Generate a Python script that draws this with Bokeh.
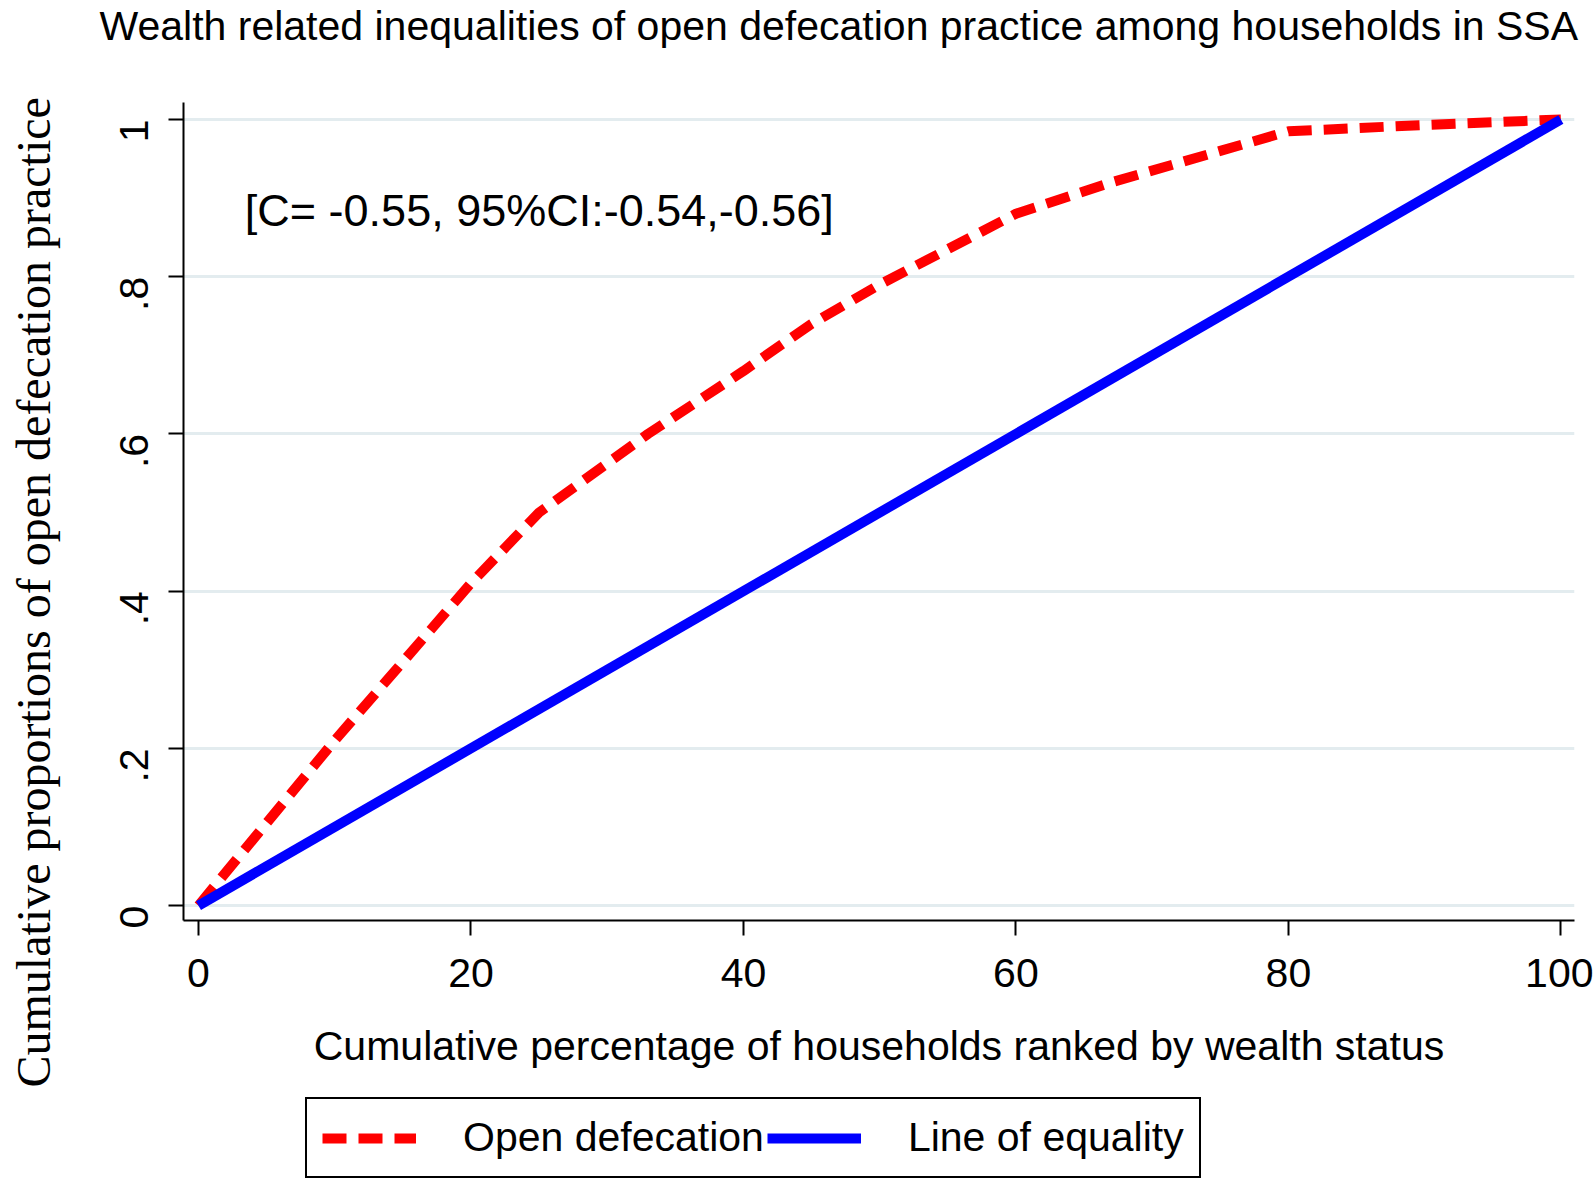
import math
from bokeh.plotting import figure
from bokeh.layouts import column
from bokeh.models import Label, Legend, LegendItem, Range1d, FixedTicker, Title
from bokeh.embed import file_html
from bokeh.resources import INLINE

# Data
pct_households = [0, 10, 20, 25, 33, 40, 45, 50, 60, 67, 75, 80, 90, 100]
cum_open_defecation = [0, 0.21, 0.41, 0.50, 0.60, 0.68, 0.74, 0.79, 0.88, 0.92, 0.96, 0.985, 0.993, 1.0]
equality_x = [0, 100]
equality_y = [0, 1]
x_ticks = [0, 20, 40, 60, 80, 100]
y_ticks = [0, 0.2, 0.4, 0.6, 0.8, 1.0]
y_tick_labels = ["0", ".2", ".4", ".6", ".8", "1"]

SANS = "Liberation Sans"
SERIF = "Liberation Serif"
RED = "#ff0000"
BLUE = "#0000ff"

p = figure(width=1593, height=1096, output_backend="svg", toolbar_location=None,
           x_range=Range1d(-1.1, 101.0), y_range=Range1d(-0.019, 1.0216))
p.min_border_left = 183
p.min_border_right = 19
p.min_border_top = 102
p.min_border_bottom = 176
p.outline_line_color = None
p.background_fill_color = "white"
p.border_fill_color = "white"

# axes
p.xaxis.ticker = FixedTicker(ticks=x_ticks)
p.yaxis.ticker = FixedTicker(ticks=y_ticks)
p.yaxis.major_label_overrides = {t: l for t, l in zip(y_ticks, y_tick_labels)}
for ax in (p.xaxis, p.yaxis):
    ax.axis_line_color = "black"
    ax.axis_line_width = 2
    ax.major_tick_line_color = "black"
    ax.major_tick_line_width = 2
    ax.major_tick_out = 15
    ax.major_tick_in = 0
    ax.minor_tick_line_color = None
    ax.major_label_text_font = SANS
    ax.major_label_text_font_size = "41px"
    ax.major_label_text_color = "black"
p.yaxis.major_label_orientation = math.pi / 2
p.yaxis.major_label_standoff = 34
p.xaxis.major_label_standoff = 23

p.xaxis.axis_label = "Cumulative percentage of households ranked by wealth status"
p.xaxis.axis_label_text_font = SANS
p.xaxis.axis_label_text_font_size = "41px"
p.xaxis.axis_label_text_font_style = "normal"
p.xaxis.axis_label_text_color = "black"
p.xaxis.axis_label_standoff = 33

p.xgrid.grid_line_color = None
p.ygrid.grid_line_color = "#e3ecef"
p.ygrid.grid_line_width = 3

p.line(pct_households, cum_open_defecation, line_color=RED, line_width=10, line_dash="24 12")
p.line(equality_x, equality_y, line_color=BLUE, line_width=10)

p.add_layout(Label(x=3.4, y=0.884, text="[C= -0.55, 95%CI:-0.54,-0.56]",
                   text_font=SANS, text_font_size="45px", text_baseline="middle",
                   text_align="left", text_color="black"))

# top: spacer then title (later = further from frame)
p.add_layout(Title(text=" ", text_font_size="1px", standoff=51), "above")
p.add_layout(Title(text="Wealth related inequalities of open defecation practice among households in SSA",
                   text_font=SANS, text_font_size="41px", text_font_style="normal",
                   align="left", offset=-84, standoff=0, text_color="black"), "above")

# left: spacer then rotated axis title
p.add_layout(Title(text=" ", text_font_size="1px", standoff=41), "left")
p.add_layout(Title(text="Cumulative proportions of open defecation practice",
                   text_font=SERIF, text_font_size="48px", text_font_style="normal",
                   align="left", offset=-167, standoff=0, text_color="black"), "left")

# legend strip below the chart (its key lines hold the same series, kept out of view)
leg = figure(width=1593, height=84, output_backend="svg", toolbar_location=None,
             x_axis_type=None, y_axis_type=None,
             x_range=Range1d(200, 300), y_range=Range1d(200, 300))
leg.min_border_left = 0
leg.min_border_right = 0
leg.min_border_top = 0
leg.min_border_bottom = 0
leg.outline_line_color = None
leg.xgrid.grid_line_color = None
leg.ygrid.grid_line_color = None
leg.background_fill_color = "white"
leg.border_fill_color = "white"
red_key = leg.line(pct_households, cum_open_defecation, line_color=RED, line_width=10,
                   line_dash="24 12")
blue_key = leg.line(equality_x, equality_y, line_color=BLUE, line_width=10)

legend = Legend(items=[LegendItem(label="Open defecation", renderers=[red_key]),
                       LegendItem(label="Line of equality", renderers=[blue_key])],
                orientation="horizontal", location=(122, 2))
legend.label_text_font = SANS
legend.label_text_font_size = "41px"
legend.label_text_color = "black"
legend.glyph_width = 94
legend.glyph_height = 40
legend.label_standoff = 47
legend.spacing = 3
legend.padding = 15
legend.margin = 0
legend.border_line_color = "black"
legend.border_line_alpha = 1.0
legend.border_line_width = 2
legend.background_fill_color = "white"
legend.background_fill_alpha = 1
leg.add_layout(legend, "center")

open("out.html", "w").write(file_html(column(p, leg, spacing=0), INLINE))
